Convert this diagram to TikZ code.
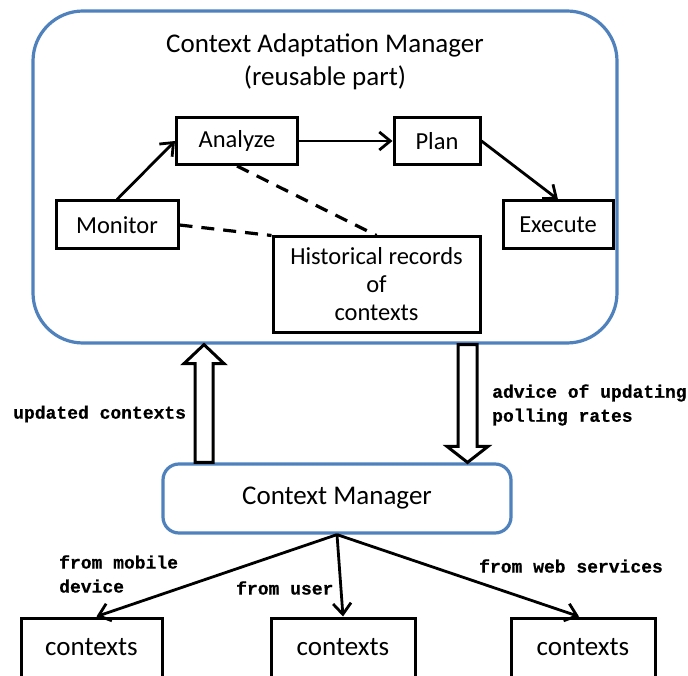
\documentclass[tikz,border=0pt]{standalone}
\usepackage{fontspec}
\setmainfont{Carlito}
\newfontfamily\labelfont{Liberation Mono}[FakeBold=0.6]
\usetikzlibrary{arrows.meta,calc}
\definecolor{frameblue}{RGB}{79,129,189}
\tikzset{
  bluebox/.style={draw=frameblue, line width=3.2pt, fill=white},
  stepbox/.style={draw, line width=3pt, fill=white, inner sep=0pt,
    font=\fontsize{24.5}{28}\selectfont},
  ctxbox/.style={draw, line width=3pt, fill=white, inner sep=0pt,
    minimum height=59pt, font=\fontsize{27}{30}\selectfont},
  flow/.style={line width=2.8pt, -{Straight Barb[length=11pt,width=18pt,line width=2.8pt]}},
  link/.style={line width=3.2pt, dash pattern=on 13pt off 9pt},
  hollow/.style={draw, line width=3pt, fill=white, line join=miter},
  note/.style={font=\labelfont\bfseries\fontsize{18}{24}\selectfont, inner sep=0pt, align=left}
}
\begin{document}
\begin{tikzpicture}[x=1pt,y=-1pt]
\useasboundingbox (0,0) rectangle (688,676);

% outer manager frame and its title
\node[bluebox, rounded corners=50pt, minimum width=584pt, minimum height=332pt] (cam) at (325,177) {};
\node[align=center, inner sep=0pt, font=\fontsize{27}{33}\selectfont] (title) at (325,62)
  {Context Adaptation Manager\\(reusable part)};

% loop steps
\node[stepbox, minimum width=121pt, minimum height=47pt] (analyze) at (237,141) {Analyze};
\node[stepbox, minimum width=86pt, minimum height=47pt] (plan) at (437,141) {Plan};
\node[stepbox, minimum width=122pt, minimum height=48pt] (monitor) at (117,225) {Monitor};
\node[stepbox, minimum width=110pt, minimum height=48pt] (execute) at (558,225) {Execute};
\node[stepbox, minimum width=207pt, minimum height=95pt, align=center] (hist) at (376.5,284.5)
  {Historical records\\of\\contexts};

\draw[flow] (monitor.north) -- (analyze.west);
\draw[flow] (analyze.east) -- (plan.west);
\draw[flow] (plan.east) -- (execute.north);
\draw[link] (analyze.south) -- (hist.north);
\draw[link] (monitor.east) -- (hist.north west);

% context manager
\node[bluebox, rounded corners=16pt, minimum width=348pt, minimum height=69pt,
  font=\fontsize{27}{30}\selectfont] (cm) at (337,498.5) {Context Manager};

% hollow arrows between the two managers
\coordinate (ub) at ([xshift=-133pt]cm.north);
\coordinate (ut) at (ub |- cam.south);
\draw[hollow] ($(ub)+(-9,0)$) -- ($(ut)+(-9,19)$) -- ($(ut)+(-20,19)$) -- (ut)
  -- ($(ut)+(20,19)$) -- ($(ut)+(9,19)$) -- ($(ub)+(9,0)$) -- cycle;

\coordinate (db) at ([xshift=130.5pt]cm.north);
\coordinate (dt) at (db |- cam.south);
\draw[hollow] ($(dt)+(-9.5,0)$) -- ($(db)+(-9.5,-16)$) -- ($(db)+(-20.5,-16)$) -- (db)
  -- ($(db)+(20.5,-16)$) -- ($(db)+(9.5,-16)$) -- ($(dt)+(9.5,0)$) -- cycle;

\node[note, anchor=west] (upd) at (13,414) {updated contexts};
\node[note, anchor=west] (adv) at (492,405) {advice of updating\\polling rates};

% context sources
\node[ctxbox, minimum width=141pt] (c1) at (91.5,647.5) {contexts};
\node[ctxbox, minimum width=144pt] (c2) at (343,647.5) {contexts};
\node[ctxbox, minimum width=144pt] (c3) at (583,647.5) {contexts};

\draw[flow] (cm.south) -- ([xshift=5pt]c1.north);
\draw[flow] (cm.south) -- (c2.north);
\draw[flow] (cm.south) -- ([xshift=-4pt]c3.north);

\node[note, anchor=west] (lmob) at (59,574) {from mobile\\device};
\node[note, anchor=west] (lusr) at (236,588) {from user};
\node[note, anchor=west] (lweb) at (479,566) {from web services};
\end{tikzpicture}
\end{document}
